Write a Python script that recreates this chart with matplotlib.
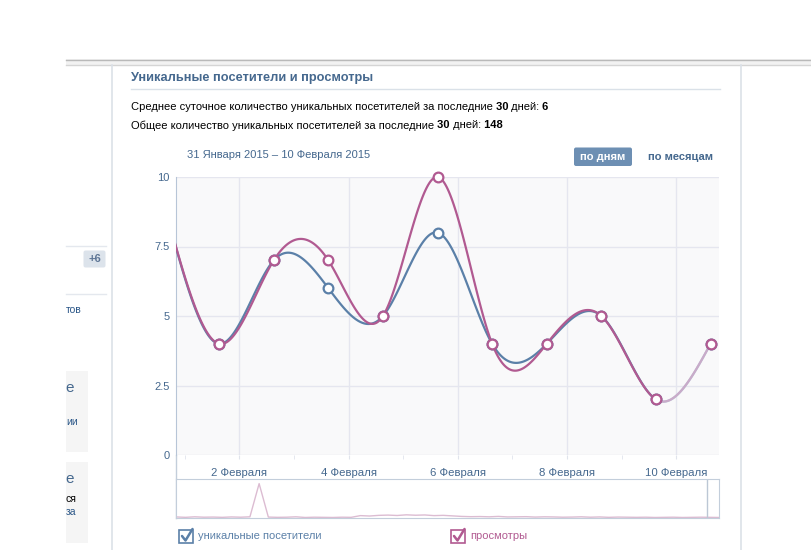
import numpy as np
import matplotlib
matplotlib.use('Agg')
import matplotlib.pyplot as plt
from matplotlib.patches import Rectangle, FancyBboxPatch

W, H = 812, 550
FONT = ['Liberation Sans', 'DejaVu Sans']

# daily values, 31 January .. 10 February (day 0 = 31 January)
days = [0, 1, 2, 3, 4, 5, 6, 7, 8, 9, 10]
visitors = [9, 4, 7, 6, 5, 8, 4, 4, 5, 2, 4]
views = [9, 4, 7, 7, 5, 10, 4, 4, 5, 2, 4]
point_shift = 0.63          # samples sit in the afternoon of each day

date_ticks = [2, 4, 6, 8, 10]
date_labels = ['2 Февраля', '4 Февраля', '6 Февраля', '8 Февраля', '10 Февраля']
y_ticks = [0, 2.5, 5, 7.5, 10]
y_labels = ['0', '2.5', '5', '7.5', '10']

# overview strip (whole history of views)
nav_views = [0.8, 0.5, 0.9, 0.6, 0.7, 0.5, 0.8, 0.6, 0.9, 26, 0.7, 0.5, 0.6, 0.9, 0.4,
             0.6, 0.5, 0.4, 0.6, 0.5, 1.8, 1.5, 2.0, 2.2, 1.9, 2.4, 2.1, 2.3, 1.8, 2.0,
             1.6, 1.2, 1.0, 1.1, 0.9, 1.2, 0.8, 0.9, 1.0, 0.7, 0.9, 0.8, 0.6, 0.7, 0.9,
             0.6, 0.8, 0.5, 0.7, 0.6, 0.5, 0.6, 0.4, 0.5, 0.6, 0.4, 0.5, 0.6, 0.5, 0.4]

BLUE = '#5b80a8'
PINK = '#b15a91'
PINK_LIGHT = '#c9abc9'
BLUE_LIGHT = '#b8c7d9'
VK = '#45688e'


def natural_spline(x, y, n=60):
    # natural cubic spline, returns list of (xs, ys) per segment
    x = np.asarray(x, float)
    y = np.asarray(y, float)
    k = len(x)
    h = np.diff(x)
    A = np.zeros((k, k))
    b = np.zeros(k)
    A[0, 0] = A[-1, -1] = 1
    for i in range(1, k - 1):
        A[i, i - 1] = h[i - 1]
        A[i, i] = 2 * (h[i - 1] + h[i])
        A[i, i + 1] = h[i]
        b[i] = 6 * ((y[i + 1] - y[i]) / h[i] - (y[i] - y[i - 1]) / h[i - 1])
    M = np.linalg.solve(A, b)
    segs = []
    for i in range(k - 1):
        t = np.linspace(x[i], x[i + 1], n)
        a = x[i + 1] - t
        c = t - x[i]
        s = (M[i] * a ** 3 + M[i + 1] * c ** 3) / (6 * h[i]) \
            + (y[i] / h[i] - M[i] * h[i] / 6) * a + (y[i + 1] / h[i] - M[i + 1] * h[i] / 6) * c
        segs.append((t, s))
    return segs


def px_axes(x0, y0, x1, y1):
    return fig.add_axes([x0 / W, 1 - y1 / H, (x1 - x0) / W, (y1 - y0) / H])


fig = plt.figure(figsize=(W / 100, H / 100), dpi=100)
fig.patch.set_facecolor('white')

# page decoration in pixel coordinates
ax0 = fig.add_axes([0, 0, 1, 1])
ax0.set_xlim(0, W)
ax0.set_ylim(H, 0)
ax0.axis('off')

ax0.add_patch(Rectangle((66, 59), W - 66, 6, facecolor='#f2f2f2', edgecolor='none'))
ax0.plot([66, W], [59.5, 59.5], color='#b9b9b9', lw=1)
ax0.plot([66, W], [64.5, 64.5], color='#d5d5d5', lw=1)
ax0.plot([112, 112], [65, H], color='#dbe1e8', lw=1.2)
ax0.plot([741, 741], [65, H], color='#dbe1e8', lw=1.2)

# left column remains
ax0.plot([66, 106], [245.5, 245.5], color='#e4e8ee', lw=1)
ax0.plot([66, 106], [294, 294], color='#e4e8ee', lw=1)
ax0.add_patch(FancyBboxPatch((83.5, 250.5), 22, 17, boxstyle='round,pad=0,rounding_size=2',
                             facecolor='#dce3eb', edgecolor='none'))
ax0.text(94.5, 259.5, '+6', ha='center', va='center', fontsize=8, fontweight='bold',
         color='#5d7595', family=FONT)
ax0.text(66, 310, 'тов', ha='left', va='center', fontsize=7.5, color='#2b5788', family=FONT)
ax0.add_patch(Rectangle((66, 371), 22, 81, facecolor='#f5f5f5', edgecolor='none'))
ax0.add_patch(Rectangle((66, 462), 22, 81, facecolor='#f5f5f5', edgecolor='none'))
ax0.text(65, 388, 'е', ha='left', va='center', fontsize=11, color=VK, family=FONT)
ax0.text(66, 422, 'ии', ha='left', va='center', fontsize=7.5, color='#2b5788', family=FONT)
ax0.text(65, 479, 'е', ha='left', va='center', fontsize=11, color=VK, family=FONT)
ax0.text(66, 499, 'ся', ha='left', va='center', fontsize=7.5, color='black', family=FONT)
ax0.text(66, 512, 'за', ha='left', va='center', fontsize=7.5, color='#2b5788', family=FONT)

renderer = fig.canvas.get_renderer()


def runs(x, y, parts, size, color):
    for s, bold in parts:
        t = ax0.text(x, y, s, fontsize=size, fontweight='bold' if bold else 'normal',
                     color=color, ha='left', va='center', family=FONT)
        x = t.get_window_extent(renderer).x1
    return x


ax0.text(131, 77.5, 'Уникальные посетители и просмотры', ha='left', va='center',
         fontsize=9.2, fontweight='bold', color=VK, family=FONT)
ax0.plot([131, 720], [88.5, 88.5], color='#dae1e8', lw=1)

runs(131, 107, [('Среднее суточное количество уникальных посетителей за последние', False),
                (' 30', True), (' дней:', False), (' 6', True)], 8, 'black')
runs(131, 125.5, [('Общее количество уникальных посетителей за последние', False),
                  (' 30', True), (' дней:', False), (' 148', True)], 8, 'black')

ax0.text(187, 155.5, '31 Января 2015 – 10 Февраля 2015', ha='left', va='center',
         fontsize=8, color=VK, family=FONT)
ax0.add_patch(FancyBboxPatch((574, 147.5), 58, 18.5, boxstyle='round,pad=0,rounding_size=2',
                             facecolor='#6d8fb3', edgecolor='none'))
ax0.text(603, 157, 'по дням', ha='center', va='center', fontsize=8, fontweight='bold',
         color='white', family=FONT)
ax0.text(681, 157, 'по месяцам', ha='center', va='center', fontsize=8, fontweight='bold',
         color=VK, family=FONT)

# frame around tick-label row and overview strip
ax0.plot([176.5, 176.5], [455, 518], color='#c3cedb', lw=1)

# legend
for bx, col, label in [(179, BLUE, 'уникальные посетители'), (451, PINK, 'просмотры')]:
    ax0.add_patch(Rectangle((bx, 529.5), 14, 13.5, facecolor='white', edgecolor=col, lw=1.2))
    ax0.plot([bx + 3, bx + 6.5, bx + 13.5], [536, 540.5, 529], color=col, lw=1.8,
             solid_capstyle='round')
    ax0.text(bx + 19, 536, label, ha='left', va='center', fontsize=8, color=col, family=FONT)

# main chart
ax = px_axes(176.3, 177, 719.3, 455)
ax.set_facecolor('#f9f9fa')
xs = [d + point_shift for d in days]
ax.set_xlim(0.846, 10.79)
ax.set_ylim(0, 10)
ax.set_yticks(y_ticks, y_labels)
ax.set_xticks(date_ticks, date_labels)
ax.set_xticks(range(1, 11), minor=True)
ax.grid(True, color='#e5e6ef', lw=1)
ax.set_axisbelow(True)
for s in ['top', 'right', 'bottom']:
    ax.spines[s].set_visible(False)
ax.spines['left'].set_color('#b7c5d7')
ax.tick_params(axis='y', length=0, pad=5, labelsize=8, labelcolor=VK)
ax.tick_params(axis='x', which='both', length=3, color='#e0e4ec', pad=6,
               labelsize=8.2, labelcolor=VK)
for lab in ax.get_xticklabels() + ax.get_yticklabels():
    lab.set_family(FONT)

for vals, col, light, z in [(visitors, BLUE, BLUE_LIGHT, 3), (views, PINK, PINK_LIGHT, 4)]:
    segs = natural_spline(xs, vals)
    for i, (t, s) in enumerate(segs):
        ax.plot(t, s, color=light if i == len(segs) - 1 else col, lw=1.6, zorder=z,
                solid_capstyle='round')
    # 31 January lies left of the visible range, so its marker is not drawn
    ax.plot(xs[1:], vals[1:], 'o', ms=7, mfc='white', mec=col, mew=1.6, zorder=z + 2,
            clip_on=False)

# overview strip
nav = px_axes(176.3, 479, 719.3, 518)
nav.plot(range(len(nav_views)), nav_views, color='#dcbcd2', lw=1)
nav.set_xlim(0, len(nav_views) - 1)
nav.set_ylim(0, 29.5)
nav.set_xticks([])
nav.set_yticks([])
for s in nav.spines.values():
    s.set_color('#c3cedb')
nav.axvline(len(nav_views) - 2.3, color='#bcc7d5', lw=1)

fig.savefig('out.png', dpi=100, facecolor='white')
